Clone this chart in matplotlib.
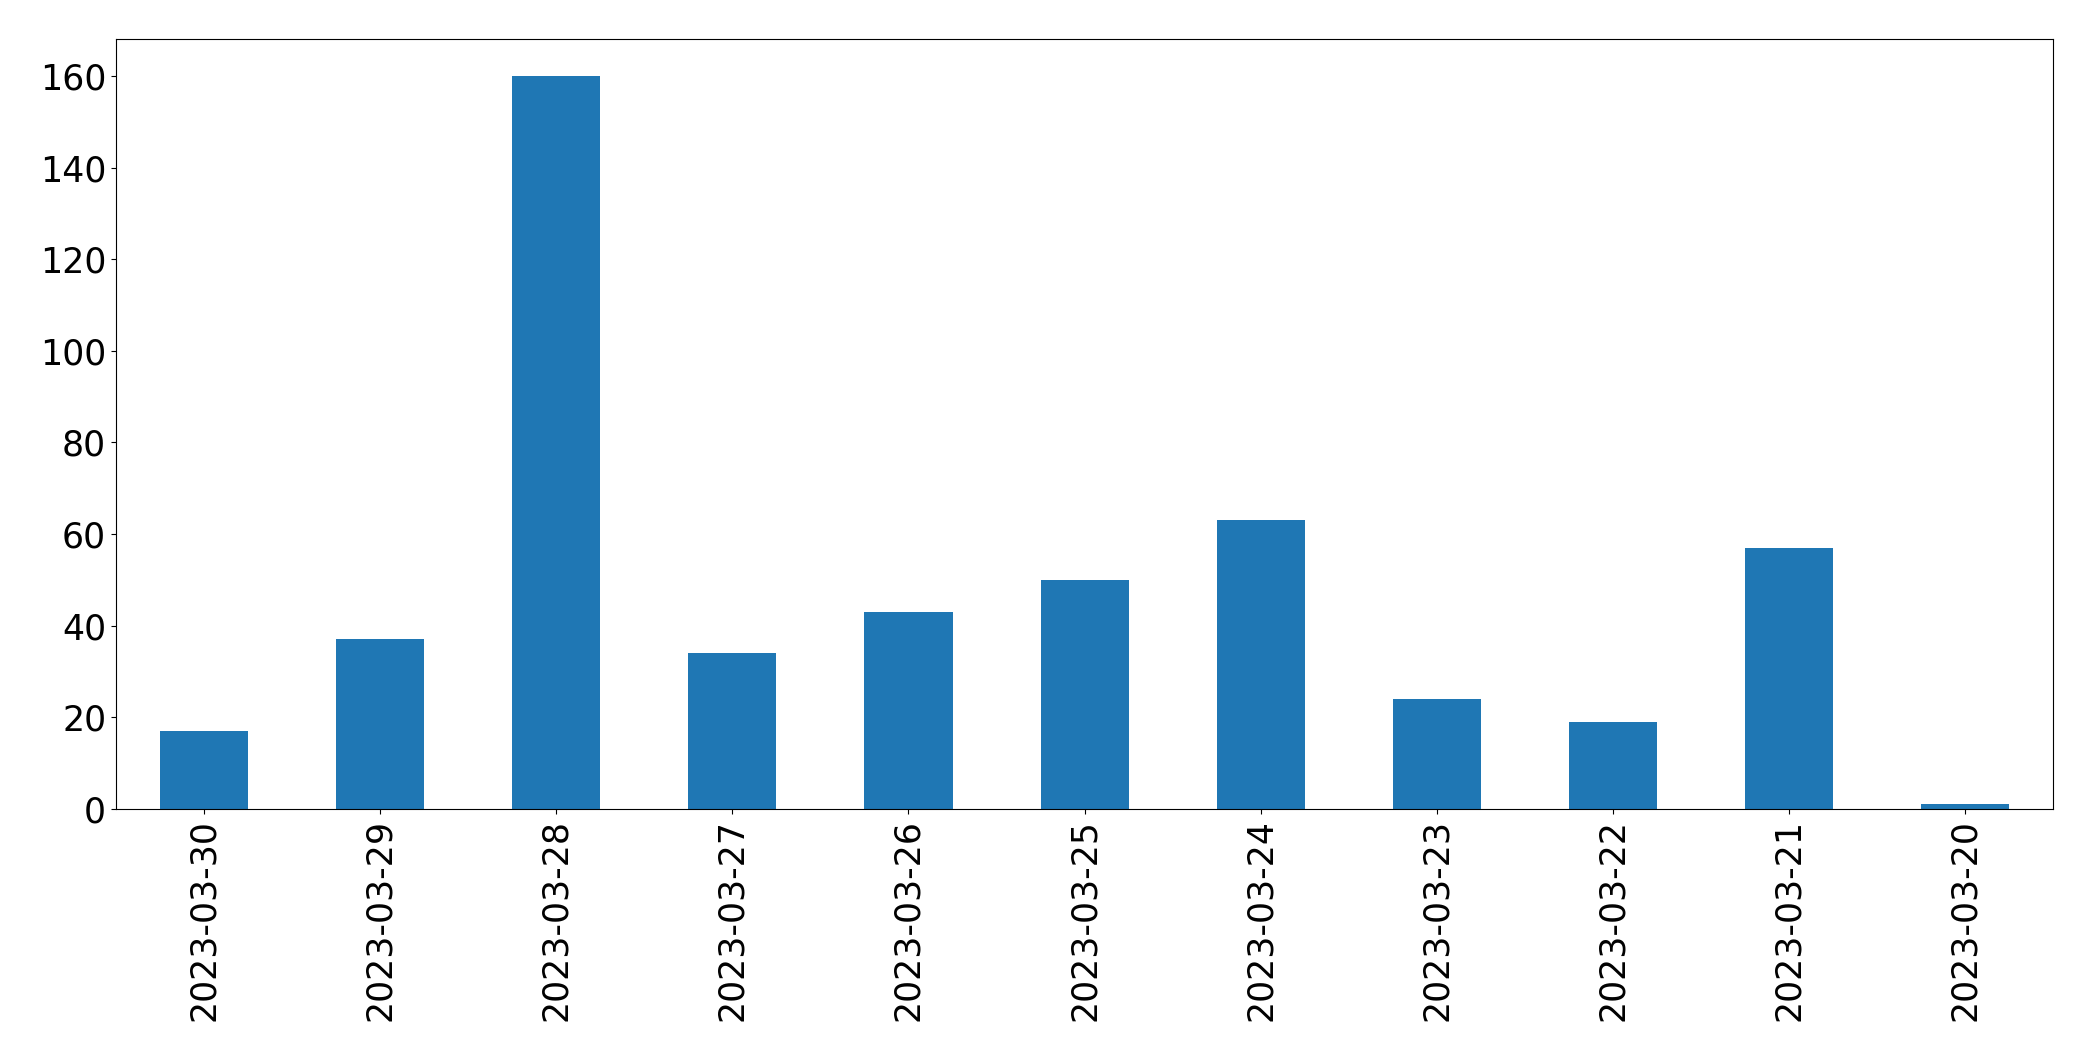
import matplotlib
matplotlib.use("Agg")
import matplotlib.pyplot as plt
import numpy as np

dates = ["2023-03-30", "2023-03-29", "2023-03-28", "2023-03-27", "2023-03-26",
         "2023-03-25", "2023-03-24", "2023-03-23", "2023-03-22", "2023-03-21",
         "2023-03-20"]
counts = [17, 37, 160, 34, 43, 50, 63, 24, 19, 57, 1]

fig = plt.figure(figsize=(20.93, 10.61), dpi=100)
ax = fig.add_axes([0.0554, 0.2375, 0.981 - 0.0554, 0.963 - 0.2375])

x = np.arange(len(dates))
ax.bar(x, counts, width=0.5, color="#1f77b4")
ax.set_xlim(-0.5, len(dates) - 0.5)
ax.set_ylim(0, max(counts) * 1.05)
ax.set_xticks(x)
ax.set_xticklabels(dates, rotation=90)
ax.tick_params(axis="both", labelsize=25)

fig.savefig("out.png", dpi=100)
